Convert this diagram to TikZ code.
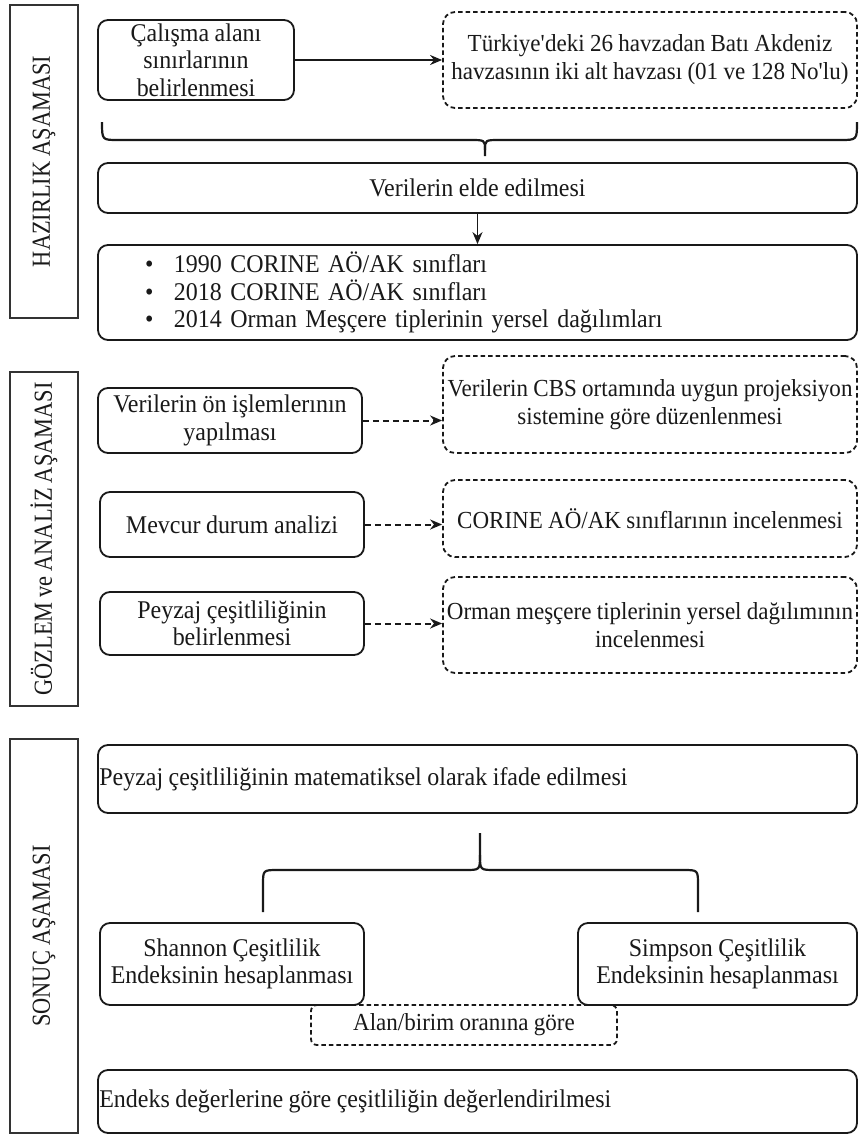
\documentclass[tikz,border=0pt]{standalone}
\usepackage{fontspec}
\setmainfont[FakeStretch=0.94,WordSpace=0.92]{Liberation Serif}
\newfontfamily\sidefont[FakeStretch=0.86,WordSpace=0.9]{Liberation Serif}
\usetikzlibrary{arrows.meta}
\begin{document}
\begin{tikzpicture}[x=1pt,y=-1pt,
  every node/.style={font=\fontsize{25.5}{27.5}\selectfont, text=black!90},
  dfont/.style={font=\fontsize{24.5}{28}\selectfont},
  sbox/.style={draw=black!90, line width=1.8pt, rounded corners=10pt, inner sep=0pt, align=center},
  dbox/.style={draw=black!90, line width=1.8pt, dash pattern=on 4.5pt off 3pt, rounded corners=12pt, inner sep=0pt, align=center, dfont},
  side/.style={draw=black!80, line width=1.8pt, rotate=90, inner sep=0pt, font=\sidefont\fontsize{26}{28}\selectfont},
  lbl/.style={inner sep=0pt, anchor=west},
  arr/.style={-{Stealth[length=12pt,width=10pt]}, line width=1.6pt, draw=black!90},
  darr/.style={arr, line width=2pt, dash pattern=on 6pt off 4pt},
  bracestyle/.style={line width=2.2pt, draw=black!90}
]
\fill[white] (0,0) rectangle (859,1135);
\useasboundingbox (0,0) rectangle (859,1135);

% side bars
\node[side, minimum width=313, minimum height=68] (s1) at (44,161.5) {HAZIRLIK AŞAMASI};
\node[side, minimum width=334, minimum height=68] (s2) at (44,539) {GÖZLEM ve ANALİZ AŞAMASI};
\node[side, minimum width=394, minimum height=68] (s3) at (44,936) {SONUÇ AŞAMASI};

% section 1
\node[sbox, minimum width=196, minimum height=80] (calis) at (196,60) {Çalışma alanı\\sınırlarının\\belirlenmesi};
\node[dbox, minimum width=414, minimum height=96] (turk) at (650,60) {Türkiye\textquotesingle deki 26 havzadan Batı Akdeniz\\havzasının iki alt havzası (01 ve 128 No\textquotesingle lu)};
\node[sbox, minimum width=759, minimum height=50] (veri) at (477.5,188) {Verilerin elde edilmesi};
\node[sbox, minimum width=759, minimum height=95, text width=665, inner xsep=47, inner ysep=0, align=left] (data) at (477.5,292.5)
  {\makebox[29pt][l]{\textbullet}1990 CORINE AÖ/AK sınıfları\\
   \makebox[29pt][l]{\textbullet}2018 CORINE AÖ/AK sınıfları\\
   \makebox[29pt][l]{\textbullet}2014 Orman Meşçere tiplerinin yersel dağılımları};

\draw[arr] (calis.east) -- (turk.west);
\draw[arr] (veri.south) -- (data.north);
\draw[bracestyle] (102,122) .. controls (102,140) .. (118,140) -- (470,140) .. controls (485,140) .. (485,150) -- (485,156);
\draw[bracestyle] (485,150) .. controls (485,140) .. (500,140) -- (840,140) .. controls (857,140) .. (857,122);

% section 2
\node[sbox, minimum width=264, minimum height=65] (on) at (230,420.5) {Verilerin ön işlemlerının\\yapılması};
\node[dbox, minimum width=414, minimum height=97] (cbs) at (650,404.5) {Verilerin CBS ortamında uygun projeksiyon\\sistemine göre düzenlenmesi};
\node[sbox, minimum width=264, minimum height=65] (mev) at (232,524.5) {Mevcur durum analizi};
\node[dbox, minimum width=414, minimum height=77] (cor) at (650,518.5) {CORINE AÖ/AK sınıflarının incelenmesi};
\node[sbox, minimum width=264, minimum height=63] (pey) at (232,623.5) {Peyzaj çeşitliliğinin\\belirlenmesi};
\node[dbox, minimum width=414, minimum height=96] (orm) at (650,625) {Orman meşçere tiplerinin yersel dağılımının\\incelenmesi};

\draw[darr] (on.east) -- (on.east -| cbs.west);
\draw[darr] (mev.east) -- (mev.east -| cor.west);
\draw[darr] (pey.east) -- (pey.east -| orm.west);

% section 3
\node[sbox, minimum width=759, minimum height=68] (mat) at (477.5,779) {};
\node[lbl] (matt) at ([xshift=2pt]mat.west) {Peyzaj çeşitliliğinin matematiksel olarak ifade edilmesi};
\node[sbox, minimum width=264, minimum height=82] (sha) at (232,964) {Shannon Çeşitlilik\\Endeksinin hesaplanması};
\node[sbox, minimum width=279, minimum height=82] (sim) at (717.5,964) {Simpson Çeşitlilik\\Endeksinin hesaplanması};
\node[dbox, minimum width=306, minimum height=40, rounded corners=6pt] (alan) at (464,1025) {Alan/birim oranına göre};
\node[sbox, minimum width=759, minimum height=63] (endk) at (477.5,1101.5) {};
\node[lbl] (endt) at ([xshift=2pt]endk.west) {Endeks değerlerine göre çeşitliliğin değerlendirilmesi};

\draw[bracestyle] (480,833) -- (480,855) .. controls (480,870) .. (465,870) -- (278,870) .. controls (263,870) .. (263,885) -- (263,912);
\draw[bracestyle] (480,855) .. controls (480,870) .. (495,870) -- (683,870) .. controls (698,870) .. (698,885) -- (698,912);
\end{tikzpicture}
\end{document}
